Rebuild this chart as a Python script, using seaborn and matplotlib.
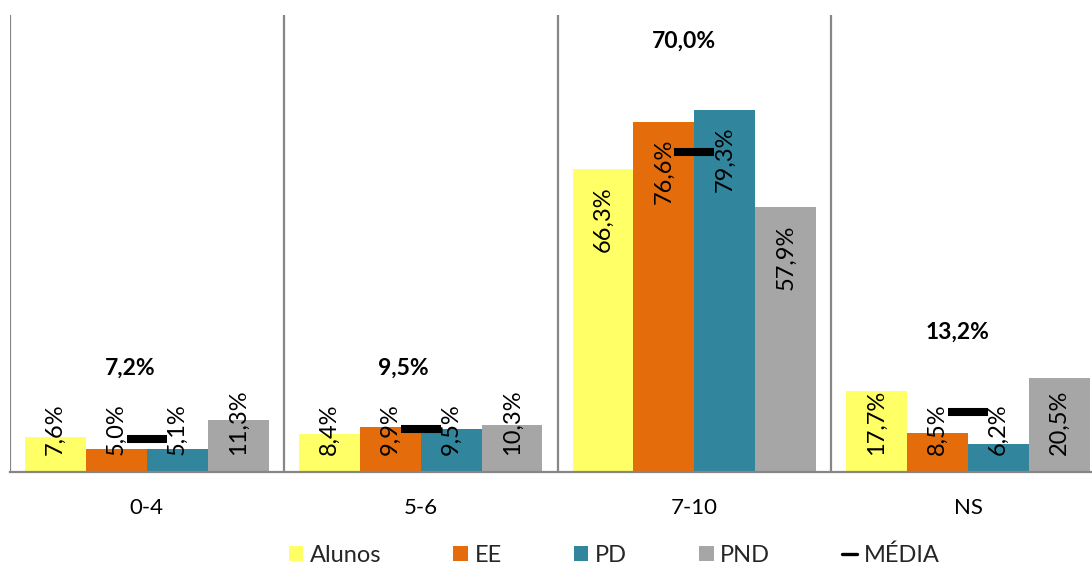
import matplotlib
matplotlib.use("Agg")
import matplotlib.pyplot as plt
from matplotlib.patches import Patch
from matplotlib.lines import Line2D
import seaborn as sns
import pandas as pd

# Classes de resposta e percentagens por grupo
categories = ["0-4", "5-6", "7-10", "NS"]
groups = ["Alunos", "EE", "PD", "PND"]
alunos = [7.6, 8.4, 66.3, 17.7]
ee = [5.0, 9.9, 76.6, 8.5]
pd_vals = [5.1, 9.5, 79.3, 6.2]
pnd = [11.3, 10.3, 57.9, 20.5]
media = [7.2, 9.5, 70.0, 13.2]

colors = ["#FFFF66", "#E46C0A", "#31859C", "#A6A6A6"]
grid_color = "#868686"

sns.set_theme(style="white")
plt.rcParams["font.family"] = ["Lato", "DejaVu Sans"]

series = [alunos, ee, pd_vals, pnd]
df = pd.DataFrame({
    "Classe": [c for s in series for c in categories],
    "Grupo": [g for g, s in zip(groups, series) for _ in s],
    "Valor": [v for s in series for v in s],
})

DPI = 100
fig = plt.figure(figsize=(10.92, 5.67), dpi=DPI)
ax = fig.add_axes([10 / 1092, 95 / 567, 1095 / 1092, 457 / 567])

sns.barplot(data=df, x="Classe", y="Valor", hue="Grupo", order=categories,
            hue_order=groups, palette=colors, width=0.89, saturation=1,
            dodge=True, legend=False, ax=ax, linewidth=0)

ax.set_xlim(-0.5, 3.5)
ax.set_ylim(0, 100)
ax.set_xlabel("")
ax.set_ylabel("")
ax.set_yticks([])

# separadores verticais entre classes
for xs in [-0.5, 0.5, 1.5, 2.5, 3.5]:
    ax.axvline(xs, color=grid_color, lw=1.6, zorder=0.5)

for side in ["top", "right", "left"]:
    ax.spines[side].set_visible(False)
ax.spines["bottom"].set_color(grid_color)
ax.spines["bottom"].set_linewidth(1.6)

ax.set_xticks(range(len(categories)))
ax.set_xticklabels(categories, fontsize=16, color="black")
ax.tick_params(axis="x", which="major", length=0, pad=19)
ax.set_xticks([-0.5, 0.5, 1.5, 2.5, 3.5], minor=True)
ax.tick_params(axis="x", which="minor", length=6, width=1.6,
               color=grid_color, direction="out")

# rótulos de valor, rodados, dentro do topo das barras
fig.canvas.draw()
renderer = fig.canvas.get_renderer()
px_per_unit = ax.transData.transform((0, 1))[1] - ax.transData.transform((0, 0))[1]
pad = 17 / px_per_unit
for container, vals in zip(ax.containers, series):
    for bar, v in zip(container, vals):
        xc = bar.get_x() + bar.get_width() / 2
        t = ax.text(xc, v - pad, f"{v:.1f}%".replace(".", ","), rotation=90,
                    ha="center", va="top", fontsize=17, color="black", zorder=4)
        bb = t.get_window_extent(renderer)
        length = bb.height / px_per_unit
        if v - pad - length < pad:
            t.set_y(pad)
            t.set_va("bottom")

# média por classe: traço e valor em negrito
half = 0.073
ax.hlines(media, [i - half for i in range(4)], [i + half for i in range(4)],
          colors="black", lw=5.8, zorder=5)
label_y = [22.8, 22.8, 94.2, 30.6]
for i, (m, ly) in enumerate(zip(media, label_y)):
    ax.text(i - 0.155, ly, f"{m:.1f}%".replace(".", ","), ha="left",
            va="center", fontsize=16.5, fontweight="bold", color="black")

handles = [Patch(facecolor=c, edgecolor="none", label=g) for g, c in zip(groups, colors)]
handles.append(Line2D([0], [0], color="black", lw=2.4, label="MÉDIA"))
fig.legend(handles=handles, loc="center", bbox_to_anchor=(614 / 1092, 12 / 567),
           ncol=5, frameon=False, fontsize=17, handlelength=0.62,
           handleheight=0.58, handletextpad=0.28, columnspacing=3.05,
           borderaxespad=0, borderpad=0)

fig.savefig("out.png", dpi=DPI)
